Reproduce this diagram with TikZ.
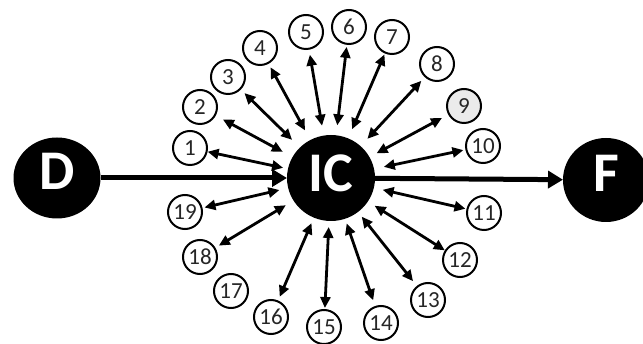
\documentclass[tikz,border=0pt]{standalone}
\usepackage{fontspec}
\setmainfont{Carlito}
\usetikzlibrary{arrows.meta,shapes.geometric}
\begin{document}
\begin{tikzpicture}[x=1pt,y=-1pt,
  big/.style={ellipse, fill=black, text=white, inner sep=0pt, outer sep=0pt,
    font=\fontsize{56}{56}\selectfont\bfseries, text depth=9pt},
  num/.style={circle, draw=black, line width=2pt, minimum size=34pt, inner sep=0pt,
    outer sep=0pt, font=\fontsize{23}{23}\selectfont, fill=white, text=black!85},
  link/.style={line width=2.8pt, {Triangle[length=11pt,width=10pt]}-{Triangle[length=11pt,width=10pt]}},
  mainarrow/.style={line width=5pt, -{Triangle[length=15pt,width=17pt]}}]
\useasboundingbox (0,0) rectangle (643,344);
\node[big, minimum width=87pt, minimum height=81pt, text depth=13pt] (D) at (57,178) {D};
\node[big, minimum width=88pt, minimum height=86pt] (IC) at (331,178) {IC};
\node[big, minimum width=86pt, minimum height=84pt, text depth=13pt] (F) at (606,180) {F};
\node[num] (c1) at (190,148) {1};
\node[num] (c2) at (200,107) {2};
\node[num] (c3) at (228,77) {3};
\node[num] (c4) at (260,48) {4};
\node[num] (c5) at (306,32) {5};
\node[num] (c6) at (349,27) {6};
\node[num] (c7) at (392,37) {7};
\node[num] (c8) at (437,64) {8};
\node[num, fill=black!8] (c9) at (464,106) {9};
\node[num] (c10) at (483,146) {10};
\node[num] (c11) at (484,213) {11};
\node[num] (c12) at (460,260) {12};
\node[num] (c13) at (428,300) {13};
\node[num] (c14) at (381,323) {14};
\node[num] (c15) at (324,327) {15};
\node[num] (c16) at (271,317) {16};
\node[num] (c17) at (231,291) {17};
\node[num] (c18) at (200,257) {18};
\node[num] (c19) at (185,212) {19};
\draw[mainarrow] (D) -- (IC);
\draw[mainarrow] (IC) -- (F);
\foreach \i/\a/\b in {1/5/1, 2/11/9, 3/11/6, 4/11/5, 5/10/6, 6/10/3, 7/10/2, 8/10/6,
  9/8/8, 10/10/3, 11/9/2, 12/8/1, 13/6/7, 14/5/7, 15/6/2, 16/6/5, 18/9/5, 19/9/3}
  \draw[link, shorten <=\a pt, shorten >=\b pt] (IC) -- (c\i);
\end{tikzpicture}
\end{document}
